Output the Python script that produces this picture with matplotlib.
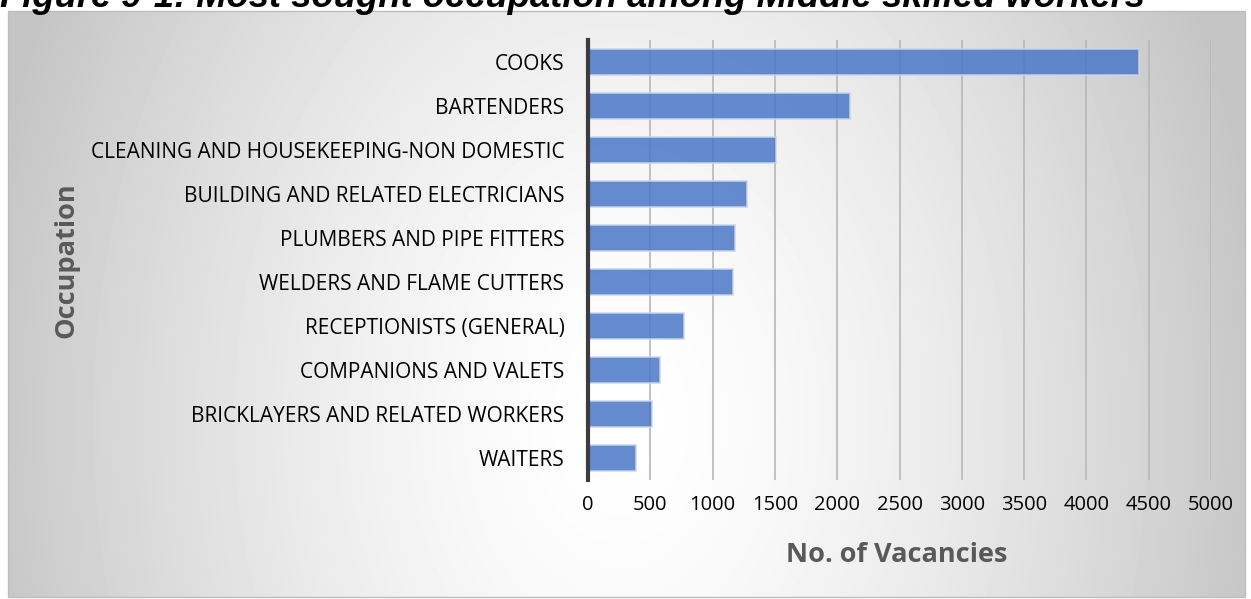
import matplotlib.pyplot as plt
import numpy as np
from matplotlib.patches import Rectangle

# data
occupations = ['COOKS', 'BARTENDERS', 'CLEANING AND HOUSEKEEPING-NON DOMESTIC',
               'BUILDING AND RELATED ELECTRICIANS', 'PLUMBERS AND PIPE FITTERS',
               'WELDERS AND FLAME CUTTERS', 'RECEPTIONISTS (GENERAL)',
               'COMPANIONS AND VALETS', 'BRICKLAYERS AND RELATED WORKERS', 'WAITERS']
vacancies = [4420, 2100, 1510, 1280, 1180, 1165, 770, 580, 515, 385]
xticks = [0, 500, 1000, 1500, 2000, 2500, 3000, 3500, 4000, 4500, 5000]
title = 'Figure 9-1: Most sought occupation among Middle skilled workers'

W, H = 1251, 599
fig = plt.figure(figsize=(W / 100, H / 100), dpi=100)
fig.patch.set_facecolor('white')

# gradient panel behind the chart
px0, px1, py0, py1 = 8, 1245, 11, 597
bg = fig.add_axes([px0 / W, 1 - py1 / H, (px1 - px0) / W, (py1 - py0) / H])
gx, gy = np.meshgrid(np.arange(px0, px1), np.arange(py0, py1))
d = np.sqrt(((gx - 620) / 650.0) ** 2 + ((gy - 420) / 900.0) ** 2)
shade = 1 - 0.23 * np.clip(d, 0, 1) ** 1.5
bg.imshow(shade, cmap='gray', vmin=0, vmax=1, aspect='auto', interpolation='bilinear')
bg.set_axis_off()
fig.add_artist(Rectangle((px0 / W, 1 - py1 / H), (px1 - px0) / W, (py1 - py0) / H,
                         transform=fig.transFigure, fill=False, edgecolor='#bdbdbd', lw=1))

# main chart
ax = fig.add_axes([588 / W, 1 - 480 / H, (1211 - 588) / W, 440 / H])
ax.set_facecolor('none')
y = np.arange(len(occupations))
ax.barh(y, vacancies, height=0.6, color='#4a78c6', alpha=0.85,
        edgecolor='#c9d6ef', linewidth=1.2, zorder=3)
ax.set_ylim(len(occupations) - 0.5, -0.5)
ax.set_xlim(0, 5000)
ax.set_xticks(xticks)
ax.set_xticklabels([str(t) for t in xticks], fontsize=14.5, family='Open Sans')
ax.set_yticks(y)
ax.set_yticklabels(occupations, fontsize=15, family='Open Sans')
ax.tick_params(length=0)
ax.tick_params(axis='x', pad=11)
ax.tick_params(axis='y', pad=17)
ax.grid(axis='x', color='#b8b8b8', lw=1.2, zorder=1)
for s in ['top', 'right', 'bottom']:
    ax.spines[s].set_visible(False)
ax.spines['left'].set_color('#3c3c3c')
ax.spines['left'].set_linewidth(3)
ax.spines['left'].set_zorder(4)

fig.text(897 / W, 1 - 555 / H, 'No. of Vacancies', ha='center', va='center',
         fontsize=19.5, fontweight='bold', color='#595959', family='Open Sans')
fig.text(66 / W, 1 - 260 / H, 'Occupation', ha='center', va='center', rotation=90,
         fontsize=19.5, fontweight='bold', color='#595959', family='Open Sans')

# title, mostly cut off by the top edge of the image
t = fig.text(0, 1 - 7 / H, title, ha='left', va='baseline', fontsize=22,
             fontweight='bold', style='italic', family='Liberation Sans')
r = fig.canvas.get_renderer()
tw = t.get_window_extent(r).width
t.set_fontsize(22 * 1142 / tw)

fig.savefig('out.png', dpi=100)
